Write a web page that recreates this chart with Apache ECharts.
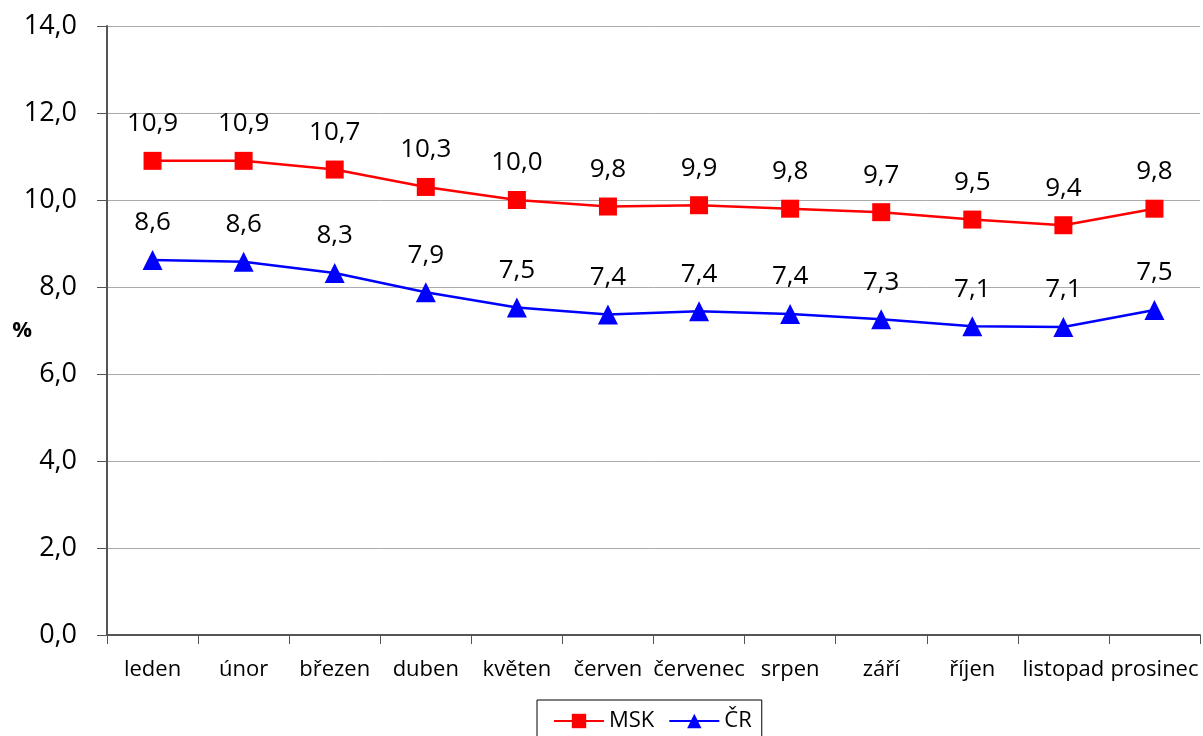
<!DOCTYPE html>
<html>
<head>
  <meta charset="UTF-8">
  <title>MSK a ČR</title>
  <script src="https://cdn.jsdelivr.net/npm/echarts@6/dist/echarts.min.js"></script>
  <style>
    html, body { margin: 0; padding: 0; background: #fff; }
    #main { width: 1203px; height: 736px; }
  </style>
</head>
<body>
  <div id="main"></div>
  <script type="text/javascript">
    var months = ['leden', 'únor', 'březen', 'duben', 'květen', 'červen', 'červenec', 'srpen', 'září', 'říjen', 'listopad', 'prosinec'];
    var msk = [10.9, 10.9, 10.7, 10.3, 10.0, 9.85, 9.88, 9.8, 9.72, 9.55, 9.42, 9.8];
    var mskLabels = ['10,9', '10,9', '10,7', '10,3', '10,0', '9,8', '9,9', '9,8', '9,7', '9,5', '9,4', '9,8'];
    var cr = [8.62, 8.58, 8.32, 7.88, 7.53, 7.37, 7.44, 7.38, 7.26, 7.1, 7.08, 7.47];
    var crLabels = ['8,6', '8,6', '8,3', '7,9', '7,5', '7,4', '7,4', '7,4', '7,3', '7,1', '7,1', '7,5'];

    var font = 'Open Sans, Noto Sans, sans-serif';
    var myChart = echarts.init(document.getElementById('main'));

    var option = {
      animation: false,
      textStyle: { fontFamily: font },
      grid: { left: 107, right: 3, top: 26, bottom: 101, outerBoundsMode: 'none', containLabel: false },
      legend: {
        bottom: -6,
        left: 537,
        itemWidth: 50,
        itemHeight: 18,
        itemGap: 14,
        padding: [10, 10, 10, 16],
        borderColor: '#000',
        borderWidth: 1,
        textStyle: { fontSize: 22, color: '#000', fontFamily: font },
        data: ['MSK', 'ČR']
      },
      xAxis: {
        type: 'category',
        data: months,
        boundaryGap: true,
        axisLine: { lineStyle: { color: '#555', width: 2 } },
        axisTick: { show: true, length: 9, lineStyle: { color: '#555' } },
        axisLabel: { interval: 0, fontSize: 22, color: '#000', margin: 24 }
      },
      yAxis: {
        type: 'value',
        min: 0,
        max: 14,
        interval: 2,
        name: '%',
        nameLocation: 'middle',
        nameRotate: 0,
        nameGap: 75,
        nameMoveOverlap: false,
        nameTextStyle: { fontSize: 22, fontWeight: 'bold', color: '#000' },
        axisLine: { show: true, lineStyle: { color: '#555', width: 2 } },
        axisTick: { show: true, length: 10, lineStyle: { color: '#555' } },
        axisLabel: {
          fontSize: 27, color: '#000', margin: 30,
          formatter: function (v) { return v.toFixed(1).replace('.', ','); }
        },
        splitLine: { show: true, lineStyle: { color: '#aaa', width: 1 } }
      },
      series: [
        {
          name: 'MSK',
          type: 'line',
          data: msk,
          symbol: 'rect',
          symbolSize: 18,
          itemStyle: { color: '#ff0000' },
          lineStyle: { color: '#ff0000', width: 2.5 },
          label: {
            show: true, position: 'top', distance: 15, fontSize: 26, color: '#000',
            formatter: function (p) { return mskLabels[p.dataIndex]; }
          }
        },
        {
          name: 'ČR',
          type: 'line',
          data: cr,
          symbol: 'triangle',
          symbolSize: 20,
          itemStyle: { color: '#0000ff' },
          lineStyle: { color: '#0000ff', width: 2.5 },
          label: {
            show: true, position: 'top', distance: 14, fontSize: 26, color: '#000',
            formatter: function (p) { return crLabels[p.dataIndex]; }
          }
        }
      ]
    };

    myChart.setOption(option);
  </script>
</body>
</html>
